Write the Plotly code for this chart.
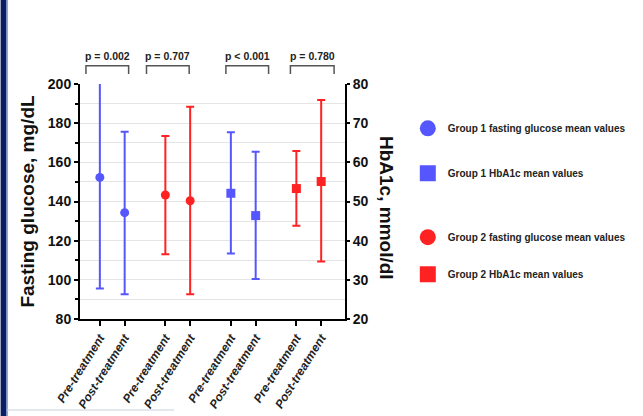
import plotly.graph_objects as go

# ---------------- data ----------------
x_labels = ["Pre-treatment", "Post-treatment"] * 4
x_pos = [0, 1, 2.64, 3.64, 5.28, 6.28, 7.92, 8.92]

g1_glu_mean = [152.3, 134.3]
g1_glu_upper = [200.9, 175.6]
g1_glu_lower = [95.6, 92.7]

g2_glu_mean = [143.3, 140.4]
g2_glu_upper = [173.4, 188.4]
g2_glu_lower = [113.0, 92.7]

g1_hba_mean = [52.1, 46.4]
g1_hba_upper = [67.7, 62.7]
g1_hba_lower = [36.7, 30.2]

g2_hba_mean = [53.3, 55.1]
g2_hba_upper = [62.9, 75.9]
g2_hba_lower = [43.8, 34.7]

p_labels = ["p = 0.002", "p = 0.707", "p < 0.001", "p = 0.780"]
bracket_x0 = [-0.56, 1.88, 5.08, 7.68]
bracket_x1 = [1.16, 3.60, 6.80, 9.44]

legend_names = [
    "Group 1 fasting glucose mean values",
    "Group 1 HbA1c mean values",
    "Group 2 fasting glucose mean values",
    "Group 2 HbA1c mean values",
]

BLUE = "#5656ff"
RED = "#ff2222"
FONT = "Liberation Sans, Arial, sans-serif"
XMIN, XMAX = -0.8, 9.88

fig = go.Figure()


def add_series(xs, mean, upper, lower, color, symbol, yaxis):
    fig.add_trace(go.Scatter(
        x=xs, y=mean, mode="markers", yaxis=yaxis, showlegend=False,
        cliponaxis=False,
        marker=dict(color=color, size=9, symbol=symbol),
        error_y=dict(type="data", symmetric=False,
                     array=[u - m for u, m in zip(upper, mean)],
                     arrayminus=[m - l for m, l in zip(mean, lower)],
                     color=color, thickness=2, width=4),
    ))


add_series(x_pos[0:2], g1_glu_mean, g1_glu_upper, g1_glu_lower, BLUE, "circle", "y")
add_series(x_pos[2:4], g2_glu_mean, g2_glu_upper, g2_glu_lower, RED, "circle", "y")
add_series(x_pos[4:6], g1_hba_mean, g1_hba_upper, g1_hba_lower, BLUE, "square", "y2")
add_series(x_pos[6:8], g2_hba_mean, g2_hba_upper, g2_hba_lower, RED, "square", "y2")

# legend entries
leg_specs = [(BLUE, "circle", "legend"), (BLUE, "square", "legend"),
             (RED, "circle", "legend2"), (RED, "square", "legend2")]
for i, (name, (c, s, lg)) in enumerate(zip(legend_names, leg_specs)):
    fig.add_trace(go.Scatter(
        x=[None], y=[None], mode="markers", name=name, legend=lg,
        legendgroup=f"g{i}", showlegend=True,
        marker=dict(color=c, size=17, symbol=s),
    ))

# p-value brackets
shapes = []
annotations = []
def xp(v):
    return (v - XMIN) / (XMAX - XMIN)
for lab, a, b in zip(p_labels, bracket_x0, bracket_x1):
    shapes.append(dict(type="path", xref="paper", yref="paper",
                       path=f"M {xp(a)},1.043 L {xp(a)},1.078 L {xp(b)},1.078 L {xp(b)},1.043",
                       line=dict(color="#555555", width=1.5)))
    annotations.append(dict(x=(a + b) / 2, y=1.12, xref="x", yref="paper",
                            xanchor="center", yanchor="middle",
                            text=lab, showarrow=False,
                            font=dict(family=FONT, size=10.5, color="#222222", weight="bold")))

# right axis title (reads top to bottom)
annotations.append(dict(x=1.157, y=0.474, xref="paper", yref="paper",
                        xanchor="center", yanchor="middle",
                        text="HbA1c, mmol/dl", textangle=90, showarrow=False,
                        font=dict(family=FONT, size=19, color="#111111", weight="bold")))

# slide decorations
shapes.append(dict(type="rect", xref="paper", yref="paper",
                   x0=(0 - 80) / 267, x1=(6 - 80) / 267, y0=-0.42, y1=1.36,
                   fillcolor="#0b1d63", line=dict(width=0), layer="below"))
shapes.append(dict(type="rect", xref="paper", yref="paper",
                   x0=(6 - 80) / 267, x1=(7.5 - 80) / 267, y0=-0.42, y1=1.36,
                   fillcolor="#8fa6dc", line=dict(width=0), layer="below"))
shapes.append(dict(type="line", xref="paper", yref="paper",
                   x0=(7 - 80) / 267, x1=(175 - 80) / 267,
                   y0=(319 - 410) / 235, y1=(319 - 410) / 235,
                   line=dict(color="#e2e8ee", width=2), layer="below"))

fig.update_layout(
    width=643, height=416,
    margin=dict(l=80, r=296, t=84, b=97),
    paper_bgcolor="white", plot_bgcolor="white",
    font=dict(family=FONT, color="#111111"),
    shapes=shapes, annotations=annotations,
    xaxis=dict(range=[XMIN, XMAX], tickvals=x_pos, ticktext=x_labels,
               tickangle=-58, showline=True, linecolor="black", linewidth=2,
               ticks="outside", ticklen=5, tickwidth=1.5, tickcolor="black",
               showgrid=False, zeroline=False, automargin=False,
               tickfont=dict(family=FONT, size=12, color="#222222",
                             style="italic", weight="bold")),
    yaxis=dict(range=[80, 200], dtick=20, showline=True, linecolor="black",
               linewidth=2, ticks="outside", ticklen=4, tickwidth=1.5,
               tickcolor="black", showgrid=True, gridcolor="#e4e4e4",
               gridwidth=1, zeroline=False, automargin=False,
               minor=dict(dtick=10, ticks="outside", ticklen=3,
                          tickcolor="black", showgrid=True,
                          gridcolor="#e4e4e4"),
               tickfont=dict(family=FONT, size=14, color="#111111", weight="bold"),
               title=dict(text="Fasting glucose, mg/dL", standoff=8,
                          font=dict(family=FONT, size=19, color="#111111",
                                    weight="bold"))),
    yaxis2=dict(range=[20, 80], dtick=10, overlaying="y", side="right",
                showline=True, linecolor="black", linewidth=2,
                ticks="outside", ticklen=3, tickwidth=1.5, tickcolor="black",
                showgrid=False, zeroline=False, automargin=False,
                tickfont=dict(family=FONT, size=14, color="#111111", weight="bold")),
    legend=dict(x=1.237, y=0.873, xanchor="left", yanchor="top",
                traceorder="grouped", tracegroupgap=26,
                bgcolor="rgba(0,0,0,0)", borderwidth=0,
                font=dict(family=FONT, size=10, color="#222222", weight="bold")),
    legend2=dict(x=1.237, y=0.41, xanchor="left", yanchor="top",
                 traceorder="grouped", tracegroupgap=18,
                 bgcolor="rgba(0,0,0,0)", borderwidth=0,
                 font=dict(family=FONT, size=10, color="#222222", weight="bold")),
)

fig.write_html(
    "out.html",
    config={"displayModeBar": False},
    post_script="document.body.style.margin='0';document.body.style.overflow='hidden';",
)
